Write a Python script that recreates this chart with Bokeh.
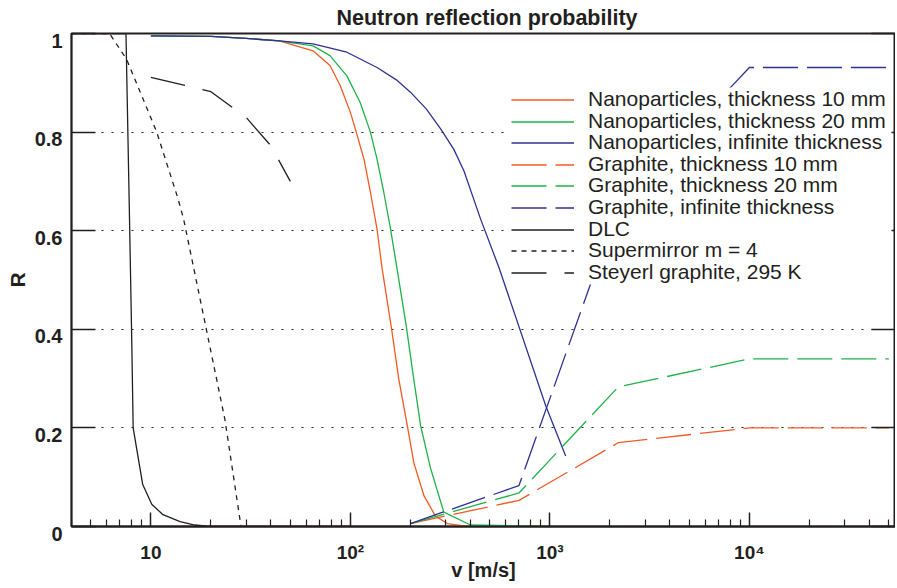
from bokeh.plotting import figure
from bokeh.models import (FixedTicker, CustomJSTickFormatter, LinearAxis, Legend,
                          LegendItem, Range1d, BoxAnnotation)
from bokeh.embed import file_html
from bokeh.resources import INLINE

# ---------------- data ----------------
np10_v = [10, 20, 30, 44, 65, 79, 89, 100, 107, 117, 126, 136, 144, 161, 175, 193, 208, 234, 267, 306, 386, 1000]
np10_R = [0.995, 0.994, 0.990, 0.985, 0.965, 0.935, 0.894, 0.84, 0.80, 0.745, 0.678, 0.603, 0.525, 0.40,
          0.298, 0.204, 0.129, 0.062, 0.021, 0.006, 0.0, 0.0]

np20_v = [10, 20, 30, 44, 65, 79, 96, 112, 126, 136, 147, 159, 171, 190, 208, 225, 252, 294, 400, 1000]
np20_R = [0.995, 0.994, 0.990, 0.985, 0.975, 0.955, 0.914, 0.86, 0.80, 0.745, 0.678, 0.603, 0.525, 0.41,
          0.298, 0.204, 0.119, 0.029, 0.003, 0.0]

npinf_v = [10, 20, 30, 44, 65, 96, 136, 170, 200, 240, 284, 330, 371, 450, 556, 955, 1200]
npinf_R = [0.995, 0.994, 0.990, 0.985, 0.979, 0.962, 0.931, 0.906, 0.881, 0.847, 0.806, 0.765, 0.721, 0.623,
           0.525, 0.244, 0.143]

gr_v = [200, 700, 2200, 10000, 50000]
gr10_R = [0.006, 0.053, 0.170, 0.200, 0.200]
gr20_R = [0.006, 0.068, 0.283, 0.340, 0.340]
grinf_R = [0.006, 0.083, 0.650, 0.931, 0.931]

dlc_v = [4, 7.5, 7.78, 8.0, 8.15, 9.1, 10.1, 11.5, 14.0, 16.6, 19.8, 100]
dlc_R = [1.0, 1.0, 0.664, 0.40, 0.20, 0.085, 0.045, 0.024, 0.010, 0.003, 0.0, 0.0]

sm_v = [4, 6.2, 7.55, 10.7, 13.7, 14.6, 23.5, 28.3]
sm_R = [1.0, 1.0, 0.948, 0.80, 0.664, 0.623, 0.217, 0.0]

st_v = [10, 20, 30, 40, 50]
st_R = [0.911, 0.882, 0.830, 0.772, 0.700]

labels = ["Nanoparticles, thickness 10 mm", "Nanoparticles, thickness 20 mm",
          "Nanoparticles, infinite thickness", "Graphite, thickness 10 mm",
          "Graphite, thickness 20 mm", "Graphite, infinite thickness", "DLC",
          "Supermirror m = 4", "Steyerl graphite, 295 K"]

x_ticks = [10, 100, 1000, 10000]
x_tick_labels = ["10", "10\u00b2", "10\u00b3", "10\u2074"]
y_ticks = [0, 0.2, 0.4, 0.6, 0.8, 1.0]
y_tick_labels = ["0", "0.2", "0.4", "0.6", "0.8", "1"]

# ---------------- styling ----------------
RED = "#f15a24"
GREEN = "#1fb24a"
BLUE = "#2e3192"
BLACK = "#231f20"
FONT = "Liberation Sans"
LW = 1.3
GR_DASH = "35 9"

X_MIN, X_MAX = 4, 54000
x_minor = [m * 10 ** e for e in range(0, 5) for m in range(2, 10)]
x_minor = [t for t in x_minor if X_MIN <= t <= X_MAX and t not in x_ticks]

p = figure(width=895, height=586, x_axis_type="log",
           x_range=Range1d(X_MIN, X_MAX), y_range=Range1d(0, 1),
           output_backend="svg", toolbar_location=None,
           min_border_left=71, min_border_right=0, min_border_top=33, min_border_bottom=60)

p.background_fill_color = "white"
p.border_fill_color = "white"
p.outline_line_color = BLACK
p.outline_line_width = 2

p.title.text = "Neutron reflection probability"
p.title.align = "left"
p.title.offset = 265
p.title.text_font = FONT
p.title.text_font_size = "21.5px"
p.title.text_font_style = "bold"
p.title.text_color = BLACK
p.title.standoff = 7

fmt_code = """
for (let i = 0; i < vals.length; i++) {
  if (Math.abs(vals[i] - tick) <= 1e-6 * Math.max(1, Math.abs(vals[i]))) return labs[i];
}
return '';
"""

xa = p.xaxis[0]
xa.ticker = FixedTicker(ticks=x_ticks, minor_ticks=x_minor)
xa.formatter = CustomJSTickFormatter(args=dict(vals=x_ticks, labs=x_tick_labels), code=fmt_code)
xa.major_tick_in = 14
xa.major_tick_out = 0
xa.minor_tick_in = 7
xa.minor_tick_out = 0
xa.major_tick_line_width = 1.5
xa.minor_tick_line_width = 1.2
xa.major_tick_line_color = BLACK
xa.minor_tick_line_color = BLACK
xa.axis_line_width = 2
xa.axis_line_color = BLACK
xa.major_label_text_font = FONT
xa.major_label_text_font_size = "19px"
xa.major_label_text_font_style = "bold"
xa.major_label_text_color = BLACK
xa.major_label_text_line_height = 0.8
xa.major_label_standoff = 15
xa.axis_label = "v [m/s]"
xa.axis_label_text_font = FONT
xa.axis_label_text_font_size = "20px"
xa.axis_label_text_font_style = "bold"
xa.axis_label_text_color = BLACK
xa.axis_label_text_line_height = 0.8
xa.axis_label_standoff = -7

ya = p.yaxis[0]
ya.ticker = FixedTicker(ticks=y_ticks)
ya.formatter = CustomJSTickFormatter(args=dict(vals=y_ticks, labs=y_tick_labels),
                                     code=fmt_code.replace("return labs[i];", "return '\\n' + labs[i];"))
ya.major_tick_in = 24
ya.major_tick_out = 0
ya.minor_tick_in = 0
ya.minor_tick_out = 0
ya.major_tick_line_width = 1.5
ya.major_tick_line_color = BLACK
ya.axis_line_width = 1.5
ya.axis_line_color = BLACK
ya.major_label_text_font = FONT
ya.major_label_text_font_size = "20px"
ya.major_label_text_font_style = "bold"
ya.major_label_text_color = BLACK
ya.major_label_text_line_height = 0.65
ya.major_label_standoff = 9
ya.axis_label = "R"
ya.axis_label_text_font = FONT
ya.axis_label_text_font_size = "21px"
ya.axis_label_text_font_style = "bold"
ya.axis_label_text_color = BLACK
ya.axis_label_standoff = 3

ra = LinearAxis(ticker=FixedTicker(ticks=y_ticks),
                formatter=CustomJSTickFormatter(code="return '';"),
                major_tick_in=24, major_tick_out=0, minor_tick_in=0, minor_tick_out=0,
                major_tick_line_width=1.5, major_tick_line_color=BLACK,
                axis_line_color=BLACK, axis_line_width=1.5, major_label_standoff=0,
                major_label_text_font_size="0px")
p.add_layout(ra, "right")

p.xgrid.visible = False
p.ygrid.ticker = FixedTicker(ticks=y_ticks)
p.ygrid.grid_line_color = BLACK
p.ygrid.grid_line_dash = "2 8"
p.ygrid.grid_line_width = 1.2

r1 = p.line(np10_v, np10_R, line_color=RED, line_width=LW)
r2 = p.line(np20_v, np20_R, line_color=GREEN, line_width=LW)
r3 = p.line(npinf_v, npinf_R, line_color=BLUE, line_width=LW)
r4 = p.line(gr_v, gr10_R, line_color=RED, line_width=LW, line_dash=GR_DASH)
r5 = p.line(gr_v, gr20_R, line_color=GREEN, line_width=LW, line_dash=GR_DASH)
r6 = p.line(gr_v, grinf_R, line_color=BLUE, line_width=LW, line_dash=GR_DASH)
r7 = p.line(dlc_v, dlc_R, line_color=BLACK, line_width=LW)
r8 = p.line(sm_v, sm_R, line_color=BLACK, line_width=LW, line_dash="5 5")
r9 = p.line(st_v, st_R, line_color=BLACK, line_width=LW, line_dash="35 18")
rends = [r1, r2, r3, r4, r5, r6, r7, r8, r9]

# legend: white panel, then one single-row legend per entry (row pitch 21.6 px)
p.add_layout(BoxAnnotation(left=438, right=820, bottom=242, top=439,
                           left_units="screen", right_units="screen",
                           bottom_units="screen", top_units="screen",
                           fill_color="white", fill_alpha=1.0, line_color=None))
ROW0, PITCH, HALF = 427, 21.6, 12
for i, (lab, r) in enumerate(zip(labels, rends)):
    lg = Legend(items=[LegendItem(label=lab, renderers=[r])],
                location=(440, int(round(ROW0 - PITCH * i - HALF))),
                glyph_width=63, glyph_height=21, label_height=21,
                label_standoff=14, spacing=0, padding=0, margin=0,
                border_line_color=None, background_fill_alpha=0.0,
                label_text_font=FONT, label_text_font_size="21px", label_text_color=BLACK)
    p.add_layout(lg)

open("out.html", "w").write(file_html(p, INLINE))
